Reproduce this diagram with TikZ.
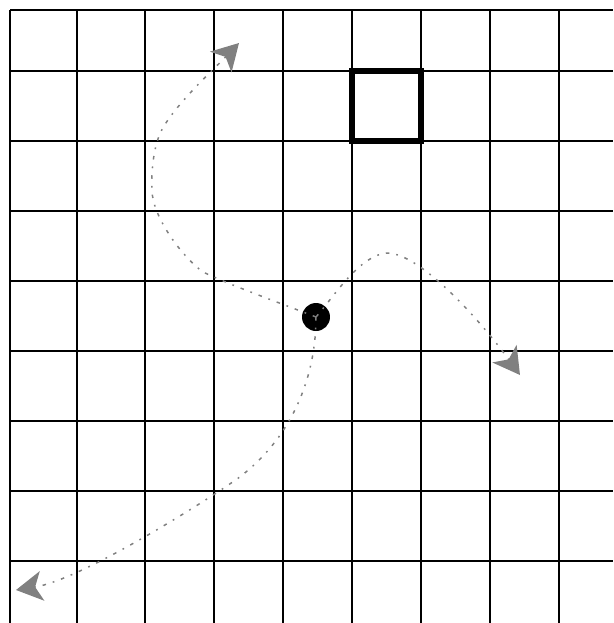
\documentclass[tikz,border=0pt]{standalone}
\usepackage{tikz}
\usetikzlibrary{arrows.meta, positioning, calc}

\begin{document}
\begin{tikzpicture}[x=0.02cm, y=-0.02cm]
        % Define styles
        \tikzstyle{gridline} = [draw=black, line width=1.2pt]
        \tikzstyle{goalcell} = [rectangle, draw=black, line width=3.6pt, minimum width=1.38cm, minimum height=1.4cm, inner sep=0pt]
        \tikzstyle{agent} = [circle, fill=black, inner sep=0pt, minimum size=0.56cm]
        \tikzstyle{track} = [draw=gray, line width=0.85pt, dash pattern=on 2pt off 4pt on 1pt off 4pt, -{Stealth[length=15pt, width=17pt, inset=4pt, fill=gray]}]

        \useasboundingbox (0,0) rectangle (613,623);

        % Grid
        \foreach \x in {10,77,145,214,283,352,421,490,559}
            \draw [gridline] (\x,10) -- (\x,623);
        \foreach \y in {10,71,141,211,281,351,421,491,561}
            \draw [gridline] (10,\y) -- (613,\y);

        % Goal cell and agent
        \node (goal) [goalcell] at (386.5,106) {};
        \node (robot) [agent] at (316,317) {};

        % Ends of the three tracks
        \coordinate (tipUp) at (239,43);
        \coordinate (tipRight) at (520,375);
        \coordinate (tipLeft) at (16,590);

        % Tracks
        \draw [track] (robot.center) .. controls (280,303) and (230,285) .. (203,272)
            .. controls (180,255) and (152,215) .. (152,190)
            .. controls (151,165) and (155,140) .. (164,126)
            .. controls (180,100) and (215,68) .. (tipUp);
        \draw [track] (robot.center) .. controls (335,295) and (360,255) .. (387,253)
            .. controls (420,253) and (480,320) .. (tipRight);
        \draw [track] (robot.center) .. controls (316,380) and (290,440) .. (237,479)
            .. controls (200,505) and (80,580) .. (tipLeft);
\end{tikzpicture}
\end{document}
